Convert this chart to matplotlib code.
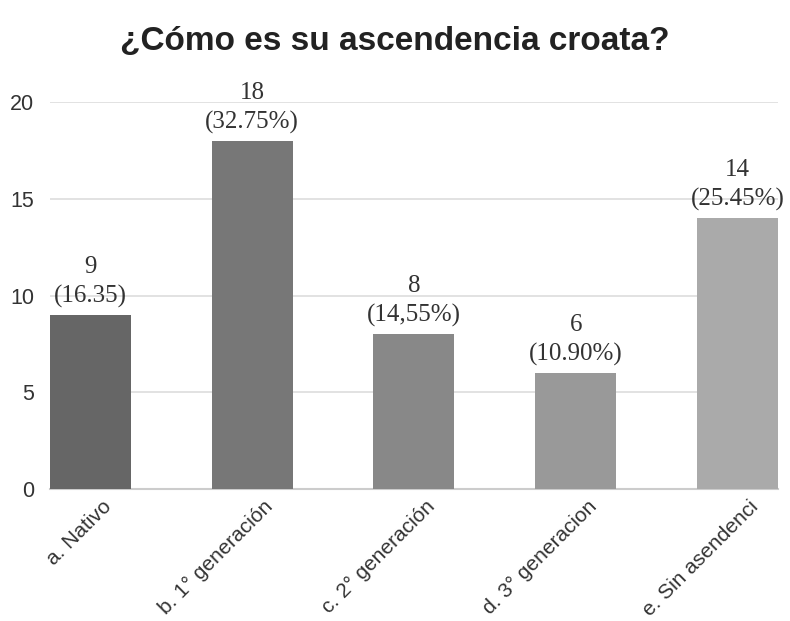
import matplotlib.pyplot as plt
from matplotlib.transforms import ScaledTranslation

categorias = ["a. Nativo", "b. 1° generación", "c. 2° generación",
              "d. 3° generacion", "e. Sin asendenci"]
valores = [9, 18, 8, 6, 14]
porcentajes = ["(16.35)", "(32.75%)", "(14,55%)", "(10.90%)", "(25.45%)"]
colores = ["#666666", "#777777", "#888888", "#999999", "#aaaaaa"]

fig = plt.figure(figsize=(7.9, 6.21), dpi=100)
ax = fig.add_axes([0.063, 0.2126, 0.922, 0.6231])

x = range(len(categorias))
ax.bar(x, valores, width=0.5, color=colores, zorder=3)

# etiquetas encima de cada barra
for i, (v, p) in enumerate(zip(valores, porcentajes)):
    ax.annotate(f"{v}\n{p}", (i, v), xytext=(0, 5), textcoords="offset points",
                ha="center", va="bottom", fontsize=18, family="Liberation Serif",
                color="#333333", linespacing=1.4, annotation_clip=False)

ax.set_xlim(-0.25, 4.25)
ax.set_ylim(0, 20)
ax.set_yticks([0, 5, 10, 15, 20])
ax.grid(axis="y", color="#dddddd", linewidth=1.2, zorder=0)
for s in ["top", "right", "left"]:
    ax.spines[s].set_visible(False)
ax.spines["bottom"].set_color("#cccccc")
ax.spines["bottom"].set_linewidth(1.5)
ax.tick_params(axis="both", length=0)
ax.tick_params(axis="y", pad=11, labelsize=15.5, labelcolor="#333333")
ax.set_xticks(list(x))
ax.set_xticklabels(categorias, rotation=45, ha="right", va="center",
                   rotation_mode="anchor", fontsize=15, family="Liberation Sans",
                   color="#333333")
desplazar = ScaledTranslation(18 / 100, -10 / 100, fig.dpi_scale_trans)
for lbl in ax.get_xticklabels():
    lbl.set_transform(lbl.get_transform() + desplazar)
for lbl in ax.get_yticklabels():
    lbl.set_family("Liberation Sans")

fig.suptitle("¿Cómo es su ascendencia croata?", x=0.5, y=0.958,
             fontsize=24, fontweight="bold", family="Liberation Sans", color="#222222")

fig.savefig("out.png", dpi=100, facecolor="white")
